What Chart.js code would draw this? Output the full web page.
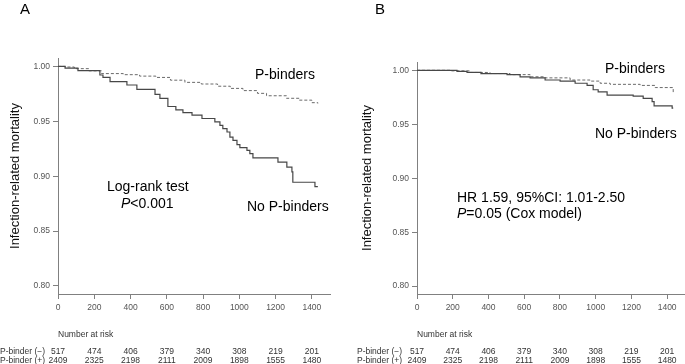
<!DOCTYPE html>
<html lang="en">
<head>
<meta charset="UTF-8">
<title>Infection-related mortality</title>
<script src="https://cdn.jsdelivr.net/npm/chart.js@4.4.0/dist/chart.umd.min.js"></script>
<style>
  body { margin: 0; background: #fff; }
  .wrap { position: relative; width: 685px; height: 364px; overflow: hidden; }
  canvas { position: absolute; top: 0; }
  #chartA { left: 0; }
  #chartB { left: 345px; }
</style>
</head>
<body>
<div class="wrap">
  <canvas id="chartA" width="345" height="364"></canvas>
  <canvas id="chartB" width="340" height="364"></canvas>
</div>
<script>
// axis ticks
const xTicks = [0, 200, 400, 600, 800, 1000, 1200, 1400];
const yTicks = [0.80, 0.85, 0.90, 0.95, 1.00];

// number at risk
const riskTimes = [0, 200, 400, 600, 800, 1000, 1200, 1400];
const riskLabels = ['P-binder (\u2212)', 'P-binder (+)'];
const riskNeg = [517, 474, 406, 379, 340, 308, 219, 201];
const riskPos = [2409, 2325, 2198, 2111, 2009, 1898, 1555, 1480];

// panel A - no P-binders (solid)
const aNoDays = [0, 39, 110, 231, 248, 287, 380, 435, 535, 562, 606, 650, 689, 739, 794, 865, 893, 909, 932, 948, 965, 987, 1003, 1042, 1058, 1075, 1213, 1262, 1290, 1295, 1417, 1433];
const aNoSurv = [1.000, 0.9984, 0.9962, 0.9922, 0.9901, 0.9861, 0.9831, 0.9791, 0.9745, 0.9709, 0.9635, 0.9605, 0.958, 0.9556, 0.9526, 0.9495, 0.9464, 0.9434, 0.9403, 0.9357, 0.9327, 0.9288, 0.926, 0.9235, 0.9205, 0.9168, 0.9128, 0.9082, 0.904, 0.8945, 0.8906, 0.8906];
// panel A - P-binders (dashed)
const aPDays = [0, 40, 90, 170, 240, 360, 450, 540, 620, 700, 790, 880, 950, 1020, 1100, 1150, 1260, 1330, 1400, 1433];
const aPSurv = [1.000, 0.9995, 0.998, 0.996, 0.9935, 0.9925, 0.9912, 0.990, 0.9875, 0.9855, 0.984, 0.982, 0.980, 0.978, 0.9755, 0.9733, 0.971, 0.9693, 0.967, 0.9663];

// panel B - no P-binders (solid)
const bNoDays = [0, 224, 280, 358, 504, 577, 633, 717, 801, 885, 952, 986, 1014, 1064, 1210, 1266, 1316, 1327, 1428, 1434];
const bNoSurv = [1.000, 0.999, 0.998, 0.997, 0.996, 0.994, 0.993, 0.991, 0.990, 0.988, 0.986, 0.982, 0.980, 0.977, 0.976, 0.974, 0.971, 0.967, 0.965, 0.965];
// panel B - P-binders (dashed)
const bPDays = [0, 185, 297, 409, 521, 633, 717, 857, 969, 1025, 1081, 1249, 1333, 1434];
const bPSurv = [1.000, 0.9995, 0.998, 0.997, 0.996, 0.994, 0.993, 0.991, 0.990, 0.988, 0.987, 0.986, 0.984, 0.979];

const FAMILY = '"Liberation Sans", Arial, sans-serif';
const font = (size, style) => (style ? style + ' ' : '') + size + 'px ' + FAMILY;

function toPoints(days, surv) {
    return days.map((d, i) => ({ x: d, y: surv[i] }));
}

// letters, annotations and the risk table
const extras = {
    id: 'extras',
    afterDraw(chart, args, opts) {
        const ctx = chart.ctx;
        const xs = chart.scales.x;
        ctx.save();
        ctx.fillStyle = '#000';
        ctx.textBaseline = 'alphabetic';
        ctx.textAlign = 'left';
        ctx.font = font(15);
        ctx.fillText(opts.letter, opts.letterX, 14);

        opts.notes.forEach(n => {
            let cx = n.x;
            if (n.italic) {
                ctx.font = font(14, 'italic');
                ctx.fillText(n.italic, cx, n.y);
                cx += ctx.measureText(n.italic).width;
            }
            ctx.font = font(14);
            ctx.fillText(n.text, cx, n.y);
        });

        ctx.fillStyle = '#333';
        ctx.font = font(8.5);
        ctx.fillText('Number at risk', xs.left, 337);
        ctx.fillText(riskLabels[0], opts.rowX, 353.5);
        ctx.fillText(riskLabels[1], opts.rowX, 362.5);
        ctx.textAlign = 'center';
        riskTimes.forEach((t, i) => {
            const px = xs.getPixelForValue(t);
            ctx.fillText(String(riskNeg[i]), px, 353.5);
            ctx.fillText(String(riskPos[i]), px, 362.5);
        });
        ctx.restore();
    }
};

function makeChart(id, noData, pData, cfg) {
    const ctx = document.getElementById(id).getContext('2d');
    return new Chart(ctx, {
        type: 'line',
        data: {
            datasets: [{
                label: 'No P-binders',
                data: noData,
                stepped: true,
                borderColor: '#474747',
                borderWidth: 1.2,
                pointRadius: 0,
                fill: false
            }, {
                label: 'P-binders',
                data: pData,
                stepped: true,
                borderColor: '#6a6a6a',
                borderWidth: 1,
                borderDash: [3, 2],
                pointRadius: 0,
                fill: false
            }]
        },
        options: {
            responsive: false,
            animation: false,
            events: [],
            layout: { padding: { top: cfg.top, right: cfg.right, bottom: 0, left: 0 } },
            plugins: {
                legend: { display: false },
                tooltip: { enabled: false },
                extras: cfg.extras
            },
            scales: {
                x: {
                    type: 'linear',
                    min: 0,
                    max: 1500,
                    afterBuildTicks: s => { s.ticks = xTicks.map(v => ({ value: v })); },
                    afterFit: s => { s.height = 70; },
                    ticks: {
                        color: '#555',
                        font: { family: FAMILY, size: 8.5 },
                        padding: 4,
                        maxRotation: 0,
                        callback: v => String(v)
                    },
                    grid: { drawOnChartArea: false, drawTicks: true, tickLength: 5, color: '#808080' },
                    border: { display: true, color: '#808080', width: 1 }
                },
                y: {
                    type: 'linear',
                    min: 0.7927,
                    max: 1.0077,
                    afterBuildTicks: s => { s.ticks = yTicks.map(v => ({ value: v })); },
                    afterFit: s => { s.width = cfg.yWidth; },
                    ticks: {
                        color: '#555',
                        font: { family: FAMILY, size: 8.5 },
                        padding: 3,
                        callback: v => Number(v).toFixed(2)
                    },
                    grid: { drawOnChartArea: false, drawTicks: true, tickLength: 5, color: '#808080' },
                    border: { display: true, color: '#808080', width: 1 },
                    title: {
                        display: true,
                        text: 'Infection-related mortality',
                        color: '#111',
                        font: { family: FAMILY, size: 13 },
                        padding: { top: cfg.titlePad, bottom: 0 }
                    }
                }
            }
        },
        plugins: [extras]
    });
}

makeChart('chartA', toPoints(aNoDays, aNoSurv), toPoints(aPDays, aPSurv), {
    top: 58, right: 15, yWidth: 58, titlePad: 8,
    extras: {
        letter: 'A', letterX: 20, rowX: 0,
        notes: [
            { text: 'P-binders', x: 255, y: 79 },
            { text: 'Log-rank test', x: 107, y: 191 },
            { italic: 'P', text: '<0.001', x: 121, y: 208 },
            { text: 'No P-binders', x: 247, y: 211 }
        ]
    }
});

makeChart('chartB', toPoints(bNoDays, bNoSurv), toPoints(bPDays, bPSurv), {
    top: 62, right: 0, yWidth: 72, titlePad: 15,
    extras: {
        letter: 'B', letterX: 30, rowX: 12,
        notes: [
            { text: 'P-binders', x: 260, y: 73 },
            { text: 'No P-binders', x: 250, y: 138 },
            { text: 'HR 1.59, 95%CI: 1.01-2.50', x: 112, y: 202 },
            { italic: 'P', text: '=0.05 (Cox model)', x: 112, y: 218 }
        ]
    }
});
</script>
</body>
</html>
